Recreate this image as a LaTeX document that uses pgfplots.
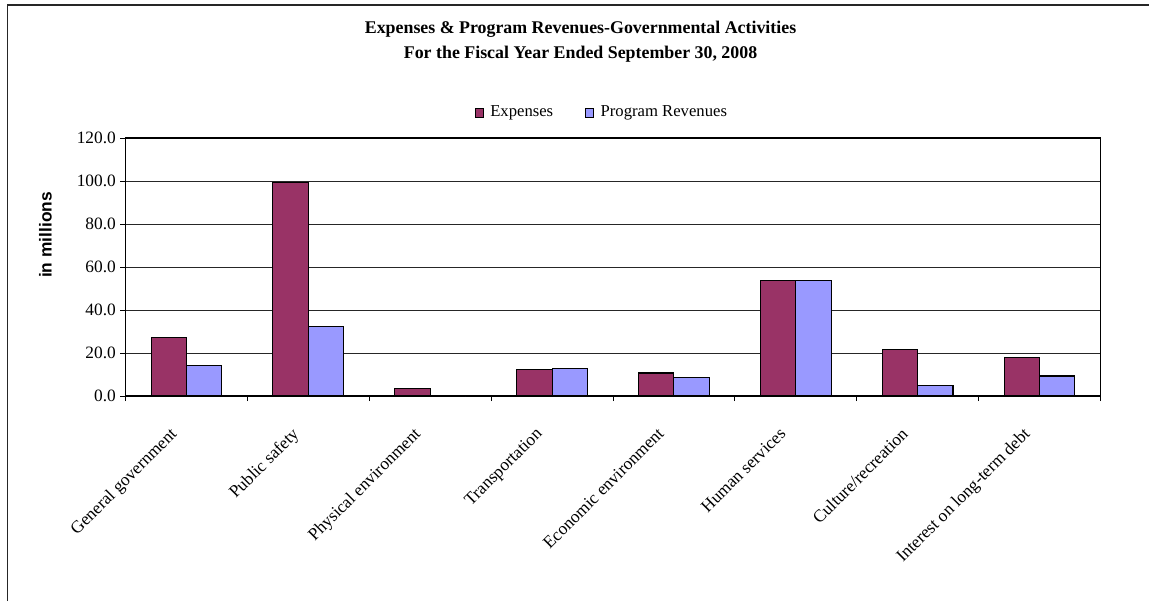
\documentclass[border=0pt]{standalone}
\usepackage{fontspec}
\setmainfont{Liberation Serif}
\newfontfamily\arialfont{Liberation Sans}
\usepackage{pgfplots}
\pgfplotsset{compat=1.18}

\definecolor{expcol}{HTML}{993366}
\definecolor{revcol}{HTML}{9999FF}

\pgfplotstableread{
x exp rev
0 27.4 14.4
1 99.5 32.2
2 3.7 0.0
3 12.2 12.9
4 10.7 8.7
5 53.8 53.8
6 21.5 5.0
7 18.0 9.3
}\govdata

\begin{document}
\begin{tikzpicture}
% page = 1149 x 601 px, 1 px = 0.75pt
\useasboundingbox (0,0) rectangle (861.75pt,450.75pt);
\draw[line width=1.2pt, black!85] (5.5pt,0) -- (5.5pt,447pt) -- (861.75pt,447pt);

\node[font=\fontsize{13.4}{15}\selectfont\bfseries] at (435.4pt,429pt) {Expenses \& Program Revenues-Governmental Activities};
\node[font=\fontsize{13.4}{15}\selectfont\bfseries] at (435.4pt,410.2pt) {For the Fiscal Year Ended September 30, 2008};

\begin{axis}[
    at={(94.1pt,153.75pt)}, anchor=south west,
    scale only axis,
    width=731.25pt, height=193.5pt,
    ybar=0pt,
    bar width=0.29,
    xmin=-0.5, xmax=7.5,
    ymin=0, ymax=120,
    ytick={0,20,...,120},
    xtick={-0.5,0.5,...,7.5},
    x tick label as interval,
    xticklabels={General government, Public safety, Physical environment, Transportation, Economic environment, Human services, Culture/recreation, Interest on long-term debt},
    tick pos=left,
    tick align=outside,
    major tick length=3.75pt,
    tick style={black, line width=0.6pt},
    ymajorgrids=true,
    grid style={black!85, line width=0.6pt},
    axis line style={black, line width=0.8pt},
    /pgf/number format/assume math mode=true,
    yticklabel style={font=\fontsize{13}{15}\selectfont, /pgf/number format/.cd, fixed, fixed zerofill, precision=1},
    xticklabel style={font=\fontsize{13}{15}\selectfont, xshift=-13pt, yshift=-19pt, rotate=45, anchor=north east, inner sep=0pt},
    ylabel={in millions},
    ylabel style={font=\arialfont\fontsize{13}{15}\selectfont\bfseries, at={(axis description cs:-0.082,0.624)}, anchor=center},
    legend columns=2,
    legend style={draw=none, fill=none, at={(axis description cs:0.489,1.099)}, anchor=center,
        font=\fontsize{12.5}{14}\selectfont,
        /tikz/every even column/.append style={column sep=22pt},
        /tikz/every odd column/.append style={column sep=3pt}},
]
\addplot[fill=expcol, draw=black, line width=0.8pt,
    legend image code/.code={\draw[fill=expcol, draw=black, line width=0.6pt] (0pt,-3.4pt) rectangle (6pt,3.4pt);}]
    table[x=x, y=exp] {\govdata};
\addplot[fill=revcol, draw=black, line width=0.8pt,
    legend image code/.code={\draw[fill=revcol, draw=black, line width=0.6pt] (0pt,-3.4pt) rectangle (6pt,3.4pt);}]
    table[x=x, y=rev] {\govdata};
\legend{Expenses, Program Revenues}
\end{axis}
\end{tikzpicture}
\end{document}
